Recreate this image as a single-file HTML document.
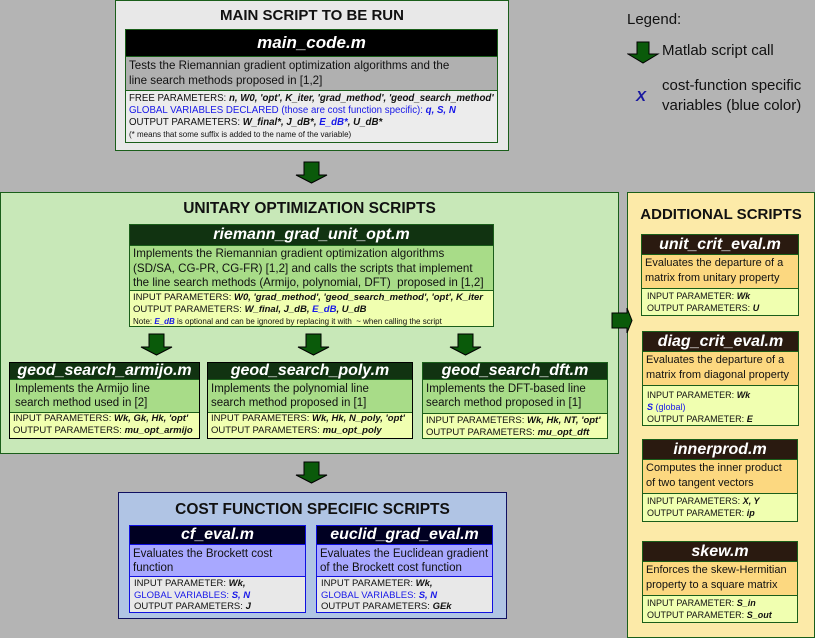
<!DOCTYPE html>
<html><head><meta charset="utf-8"><style>
*{margin:0;padding:0;box-sizing:border-box}
body{width:815px;height:638px;background:#b4b4b4;font-family:"Liberation Sans",Arial,sans-serif;position:relative;overflow:hidden;color:#111}
.a{position:absolute}
.grp{position:absolute;border:1px solid #1a5e1a}
.t{position:absolute;left:0;right:0;text-align:center;font-weight:bold;font-size:15px;color:#111}
.box{position:absolute;border:1px solid #1a5e1a}
.h{color:#fff;font-weight:bold;font-style:italic;text-align:center;font-size:16px;overflow:hidden;white-space:nowrap}
.d{font-size:11px;line-height:14px;padding:2px 0 0 3px;border-top:1px solid #1a5e1a;border-bottom:1px solid #1a5e1a;overflow:hidden;white-space:nowrap}
.p{font-size:9.5px;line-height:12px;padding:1px 0 0 3px;overflow:hidden;white-space:nowrap}
b{font-style:italic}
.bl{color:#1818e8}
</style></head><body>

<!-- MAIN -->
<div class="grp" style="left:115px;top:0;width:394px;height:151px;background:#e8e8e8">
 <div class="t" style="top:6px">MAIN SCRIPT TO BE RUN</div>
</div>
<div class="box" style="left:125px;top:29px;width:373px;height:114px;background:#ececec">
 <div class="h" style="background:#000;height:26px;line-height:26px;font-size:17px">main_code.m</div>
 <div class="d" style="background:#b0b0b0;height:35px;line-height:15px;padding-top:1px;font-size:11.6px">Tests the Riemannian gradient optimization algorithms and the<br>line search methods proposed in [1,2]</div>
 <div class="p" style="line-height:12px;padding-top:2px;font-size:9.7px">FREE PARAMETERS: <b>n, W0, 'opt', K_iter, 'grad_method', 'geod_search_method'</b><br><span class="bl">GLOBAL VARIABLES DECLARED (those are cost function specific): <b>q, S, N</b></span><br>OUTPUT PARAMETERS: <b>W_final*, J_dB*, <span class="bl">E_dB*</span>, U_dB*</b><br><span style="font-size:8px">(* means that some suffix is added to the name of the variable)</span></div>
</div>

<!-- Legend -->
<div class="a" style="left:627px;top:11px;font-size:15px">Legend:</div>
<svg class="a" style="left:627px;top:41px" width="34" height="24"><polygon points="10,1 22,1 22,13 31,13 16,22 1,13 10,13" fill="#0a5a0a" stroke="#000" stroke-width="1"/></svg>
<div class="a" style="left:662px;top:42px;font-size:15px">Matlab script call</div>
<div class="a" style="left:636px;top:88px;font-size:15px;font-weight:bold;font-style:italic;color:#1818a0">X</div>
<div class="a" style="left:662px;top:76px;font-size:15px;line-height:20px">cost-function specific<br>variables (blue color)</div>

<!-- UNITARY -->
<div class="grp" style="left:0;top:192px;width:619px;height:262px;background:#c8e8b8">
 <div class="t" style="top:7px;font-size:15.5px">UNITARY OPTIMIZATION SCRIPTS</div>
</div>
<div class="box" style="left:129px;top:224px;width:365px;height:103px;background:#f0ffb0">
 <div class="h" style="background:#113311;height:20px;line-height:20px">riemann_grad_unit_opt.m</div>
 <div class="d" style="background:#a8dc88;height:46px;line-height:14.5px;padding-top:1px;font-size:11.6px">Implements the Riemannian gradient optimization algorithms<br>(SD/SA, CG-PR, CG-FR) [1,2] and calls the scripts that implement<br>the line search methods (Armijo, polynomial, DFT)&nbsp; proposed in [1,2]</div>
 <div class="p" style="font-size:9.5px">INPUT PARAMETERS: <b>W0, 'grad_method', 'geod_search_method', 'opt', K_iter</b><br>OUTPUT PARAMETERS: <b>W_final, J_dB, <span class="bl">E_dB</span>, U_dB</b><br><span style="font-size:8px">Note: <b class="bl">E_dB</b> is optional and can be ignored by replacing it with&nbsp; ~ when calling the script</span></div>
</div>

<div class="box" style="left:9px;top:362px;width:191px;height:77px;background:#f0ffb0;border-color:#000">
 <div class="h" style="background:#113311;height:16px;line-height:16px">geod_search_armijo.m</div>
 <div class="d" style="background:#a8dc88;height:34px;padding-left:5px;line-height:14px;font-size:11.5px">Implements the Armijo line<br>search method used in [2]</div>
 <div class="p" style="padding-top:0;font-size:9.5px;line-height:12px">INPUT PARAMETERS: <b>Wk, Gk, Hk, 'opt'</b><br>OUTPUT PARAMETERS: <b>mu_opt_armijo</b></div>
</div>
<div class="box" style="left:207px;top:362px;width:206px;height:77px;background:#f0ffb0;border-color:#000">
 <div class="h" style="background:#113311;height:16px;line-height:16px">geod_search_poly.m</div>
 <div class="d" style="background:#a8dc88;height:34px;line-height:14px;font-size:11.5px">Implements the polynomial line<br>search method proposed in [1]</div>
 <div class="p" style="padding-top:0;font-size:9.5px;line-height:12px">INPUT PARAMETERS: <b>Wk, Hk, N_poly, 'opt'</b><br>OUTPUT PARAMETERS: <b>mu_opt_poly</b></div>
</div>
<div class="box" style="left:422px;top:362px;width:186px;height:77px;background:#f0ffb0">
 <div class="h" style="background:#113311;height:16px;line-height:16px">geod_search_dft.m</div>
 <div class="d" style="background:#a8dc88;height:35px;line-height:14px;font-size:11.5px">Implements the DFT-based line<br>search method proposed in [1]</div>
 <div class="p" style="padding-top:1px;font-size:9.5px;line-height:12px">INPUT PARAMETERS: <b>Wk, Hk, NT, 'opt'</b><br>OUTPUT PARAMETERS: <b>mu_opt_dft</b></div>
</div>

<!-- COST -->
<div class="grp" style="left:118px;top:492px;width:389px;height:127px;background:#b0c4e4;border-color:#101060">
 <div class="t" style="top:8px;font-size:15.5px">COST FUNCTION SPECIFIC SCRIPTS</div>
</div>
<div class="box" style="left:129px;top:525px;width:177px;height:88px;background:#e8e8e8;border-color:#1010e0">
 <div class="h" style="background:#000022;height:18px;line-height:18px">cf_eval.m</div>
 <div class="d" style="background:#a8a8ff;height:33px;border-color:#1010e0;line-height:14px;font-size:11.5px">Evaluates the Brockett cost<br>function</div>
 <div class="p" style="font-size:9.5px;line-height:11.5px;padding-left:4px">INPUT PARAMETER: <b>Wk,</b><br><span class="bl">GLOBAL VARIABLES: <b>S, N</b></span><br>OUTPUT PARAMETERS: <b>J</b></div>
</div>
<div class="box" style="left:316px;top:525px;width:177px;height:88px;background:#e8e8e8;border-color:#1010e0">
 <div class="h" style="background:#000022;height:18px;line-height:18px">euclid_grad_eval.m</div>
 <div class="d" style="background:#a8a8ff;height:33px;border-color:#1010e0;line-height:14px;font-size:11.5px">Evaluates the Euclidean gradient<br>of the Brockett cost function</div>
 <div class="p" style="font-size:9.5px;line-height:11.5px;padding-left:4px">INPUT PARAMETER: <b>Wk,</b><br><span class="bl">GLOBAL VARIABLES: <b>S, N</b></span><br>OUTPUT PARAMETERS: <b>GEk</b></div>
</div>

<!-- ADDITIONAL -->
<div class="grp" style="left:627px;top:192px;width:188px;height:446px;background:#fceaa8">
 <div class="t" style="top:13px;font-size:15px">ADDITIONAL SCRIPTS</div>
</div>
<div class="box" style="left:641px;top:234px;width:158px;height:82px;background:#f0ffb0">
 <div class="h" style="background:#2a1a10;height:19px;line-height:19px">unit_crit_eval.m</div>
 <div class="d" style="background:#fcd880;height:35px;line-height:15px;padding-top:1px">Evaluates the departure of a<br>matrix from unitary property</div>
 <div class="p" style="font-size:9px;padding-left:5px;line-height:12px">INPUT PARAMETER: <b>Wk</b><br>OUTPUT PARAMETERS: <b>U</b></div>
</div>
<div class="box" style="left:642px;top:331px;width:157px;height:95px;background:#f0ffb0">
 <div class="h" style="background:#2a1a10;height:19px;line-height:19px">diag_crit_eval.m</div>
 <div class="d" style="background:#fcd880;height:35px;line-height:15px;padding-top:1px">Evaluates the departure of a<br>matrix from diagonal property</div>
 <div class="p" style="font-size:9px;padding-left:4px;line-height:12px;padding-top:3px">INPUT PARAMETER: <b>Wk</b><br><span class="bl"><b>S</b> (global)</span><br>OUTPUT PARAMETER: <b>E</b></div>
</div>
<div class="box" style="left:642px;top:439px;width:156px;height:83px;background:#f0ffb0">
 <div class="h" style="background:#2a1a10;height:19px;line-height:19px">innerprod.m</div>
 <div class="d" style="background:#fcd880;height:35px;line-height:15px;padding-top:1px">Computes the inner product<br>of two tangent vectors</div>
 <div class="p" style="font-size:9px;padding-left:4px;line-height:12px">INPUT PARAMETERS: <b>X, Y</b><br>OUTPUT PARAMETER: <b>ip</b></div>
</div>
<div class="box" style="left:642px;top:541px;width:156px;height:82px;background:#f0ffb0">
 <div class="h" style="background:#2a1a10;height:19px;line-height:19px">skew.m</div>
 <div class="d" style="background:#fcd880;height:35px;line-height:15px;padding-top:1px">Enforces the skew-Hermitian<br>property to a square matrix</div>
 <div class="p" style="font-size:9px;padding-left:4px;line-height:12px">INPUT PARAMETER: <b>S_in</b><br>OUTPUT PARAMETER: <b>S_out</b></div>
</div>

<!-- arrows (on top) -->
<svg class="a" style="left:0;top:0" width="815" height="638">
 <g fill="#0a5a0a" stroke="#000" stroke-width="1">
  <polygon points="304,162 319,162 319,175 327,175 311.5,183 296,175 304,175"/>
  <polygon points="150,360 150,360 150,360"/>
  <polygon points="150,360 150,360"/>
  <polygon points="149,334 164,334 164,347 172,347 156.5,355 141,347 149,347"/>
  <polygon points="306,334 321,334 321,347 329,347 313.5,355 298,347 306,347"/>
  <polygon points="458,334 473,334 473,347 481,347 465.5,355 450,347 458,347"/>
  <polygon points="304,462 319,462 319,475 327,475 311.5,483 296,475 304,475"/>
  <polygon points="612,313 627,313 627,308 632,320.5 627,333 627,328 612,328"/>
 </g>
</svg>
</body></html>
